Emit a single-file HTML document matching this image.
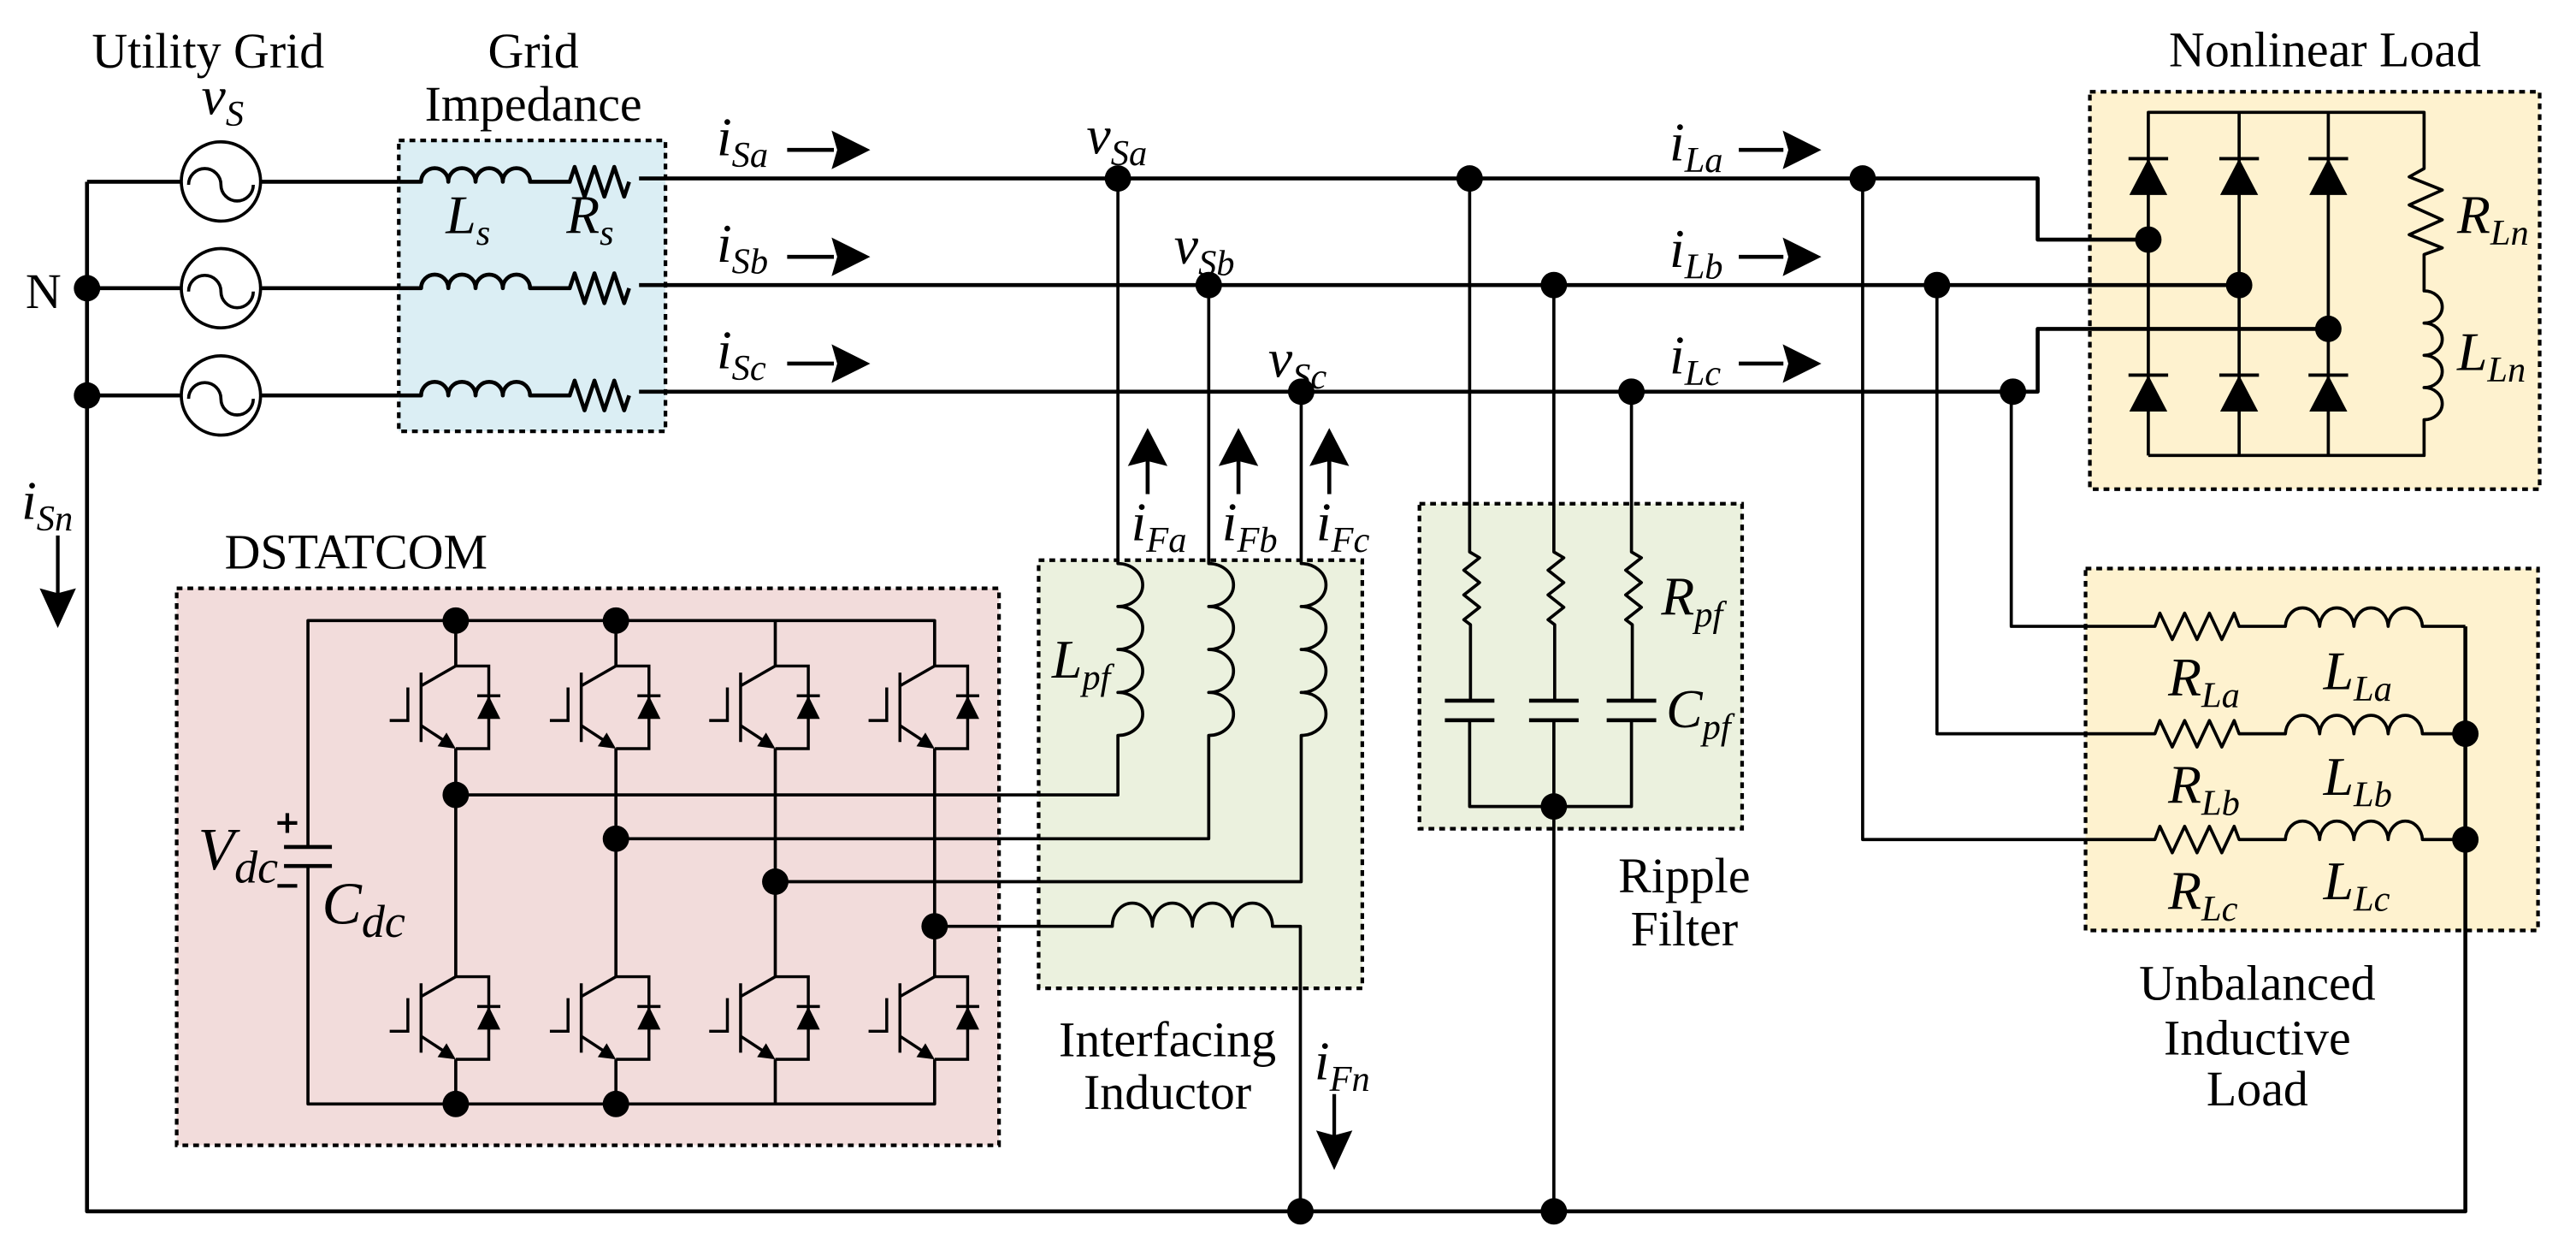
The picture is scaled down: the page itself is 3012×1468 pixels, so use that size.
<!DOCTYPE html>
<html><head><meta charset="utf-8"><style>
html,body{margin:0;padding:0;background:#fff}
svg{display:block}
text{font-family:"Liberation Serif",serif;fill:#000}
.t{font-size:30px}
.m{font-size:33px;font-style:italic}
.s{font-size:22px;font-style:italic}
</style></head><body>
<svg width="3012" height="1468" viewBox="0 0 1560 760" preserveAspectRatio="none" xmlns="http://www.w3.org/2000/svg">
<defs>
<g id="igbt" fill="none" stroke="#000" stroke-width="1.8">
<path d="M0 0H20V50H0"/>
<path d="M0 0L-21 12"/>
<path d="M-21 4V46"/>
<path d="M-21 36L-5 46.5"/>
<path d="M-29 13V33H-40"/>
<path d="M13 18H27"/>
<polygon points="20,18 13,32 27,32" fill="#000" stroke="none"/>
<polygon points="0,50 -11,48.6 -5.6,40.3" fill="#000" stroke="none"/>
</g>
<g id="dio">
<path d="M-12 0H12" stroke="#000" stroke-width="2"/>
<polygon points="0,0 -11.5,22 11.5,22" fill="#000"/>
</g>
</defs>

<g stroke="#000" stroke-width="2.2" stroke-dasharray="3.5 3">
<rect x="241.5" y="85" width="161.5" height="176" fill="#dbeef4"/>
<rect x="107" y="356" width="498" height="337" fill="#f2dcdb"/>
<rect x="629" y="339" width="196" height="259" fill="#ebf1de"/>
<rect x="859.6" y="304.8" width="195.4" height="196.7" fill="#ebf1de"/>
<rect x="1265.6" y="55.5" width="272.4" height="240.5" fill="#fef2cf"/>
<rect x="1263" y="344" width="274" height="219" fill="#fef2cf"/>
</g>

<g fill="none" stroke="#000" stroke-width="2.4" stroke-linejoin="round">
<path d="M52.7 110V733H1493V379"/>
<path d="M52.7 110H110M158 110H241.5M52.7 174.4H110M158 174.4H241.5M52.7 239.3H110M158 239.3H241.5"/>
<path d="M241.5 110H255a8.25 8.25 0 0 1 16.5 0a8.25 8.25 0 0 1 16.5 0a8.25 8.25 0 0 1 16.5 0a8.25 8.25 0 0 1 16.5 0H345l3 -9l6 18l6 -18l6 18l6 -18l6 18l3 -9"/>
<path d="M241.5 174.4H255a8.25 8.25 0 0 1 16.5 0a8.25 8.25 0 0 1 16.5 0a8.25 8.25 0 0 1 16.5 0a8.25 8.25 0 0 1 16.5 0H345l3 -9l6 18l6 -18l6 18l6 -18l6 18l3 -9"/>
<path d="M241.5 239.3H255a8.25 8.25 0 0 1 16.5 0a8.25 8.25 0 0 1 16.5 0a8.25 8.25 0 0 1 16.5 0a8.25 8.25 0 0 1 16.5 0H345l3 -9l6 18l6 -18l6 18l6 -18l6 18l3 -9"/>
<path d="M387 108H1234V145H1300"/>
<path d="M387 172.5H1356"/>
<path d="M387 237H1234V199H1410"/>
</g>

<g fill="none" stroke="#000" stroke-width="1.9">
<circle cx="133.8" cy="109.8" r="24"/><circle cx="133.8" cy="174.4" r="24"/><circle cx="133.8" cy="239.3" r="24"/>
<path d="M114.2 111.8a9.8 9.8 0 0 1 19.6 0a9.8 9.8 0 0 0 19.6 0"/>
<path d="M114.2 176.4a9.8 9.8 0 0 1 19.6 0a9.8 9.8 0 0 0 19.6 0"/>
<path d="M114.2 241.3a9.8 9.8 0 0 1 19.6 0a9.8 9.8 0 0 0 19.6 0"/>
</g>

<g fill="none" stroke="#000" stroke-width="1.9" stroke-linejoin="round">
<path d="M677 108V341a15 13 0 0 1 0 26a15 13 0 0 1 0 26a15 13 0 0 1 0 26a15 13 0 0 1 0 26V481H276"/>
<path d="M732 172.5V341a15 13 0 0 1 0 26a15 13 0 0 1 0 26a15 13 0 0 1 0 26a15 13 0 0 1 0 26V507.5H373"/>
<path d="M788 237V341a15 13 0 0 1 0 26a15 13 0 0 1 0 26a15 13 0 0 1 0 26a15 13 0 0 1 0 26V533.5H469.5"/>
<path d="M566 560.5H673.6a12.1 14 0 0 1 24.25 0a12.1 14 0 0 1 24.25 0a12.1 14 0 0 1 24.25 0a12.1 14 0 0 1 24.25 0H787.5V733"/>
<path d="M186.5 512.5V375.5H566V403M276 375.5V403M373 375.5V403M469.5 375.5V403"/>
<path d="M186.5 524V668H566V641M276 668V641M373 668V641M469.5 668V641"/>
<path d="M276 453V591M373 453V591M469.5 453V591M566 453V591"/>
<path d="M172 512.5H201M172 524H201" stroke-width="2.4"/>
<path d="M168 498H180M174 492V504M168 536H180" stroke-width="2.2"/>
<path d="M890 108V334l6 3.5l-9.5 7.5l9.5 7.5l-9.5 7.5l9.5 7.5l-9.5 7.5l4 3V424M941 172.5V334l6 3.5l-9.5 7.5l9.5 7.5l-9.5 7.5l9.5 7.5l-9.5 7.5l4 3V424M988 237V334l6 3.5l-9.5 7.5l9.5 7.5l-9.5 7.5l9.5 7.5l-9.5 7.5l4 3V424"/>
<path d="M875 424H905M926 424H956M973 424H1003M875 435.8H905M926 435.8H956M973 435.8H1003" stroke-width="2.4"/>
<path d="M890 435.8V488H988V435.8M941 435.8V733"/>
<path d="M1301 275.6V68H1468V102l-9 5l20 8l-20 9l20 9l-20 9l20 8l-11 4V176a11 9.75 0 0 1 0 19.5a11 9.75 0 0 1 0 19.5a11 9.75 0 0 1 0 19.5a11 9.75 0 0 1 0 19.5V275.6H1301M1356 68V275.6M1410 68V275.6"/>
<path d="M1218 237V379H1305l3 -8l7.5 16l7.5 -16l7.5 16l7.5 -16l7.5 16l7.5 -16l3 8H1384a10.4 12 0 0 1 20.75 0a10.4 12 0 0 1 20.75 0a10.4 12 0 0 1 20.75 0a10.4 12 0 0 1 20.75 0H1493"/>
<path d="M1173 172.5V444H1305l3 -8l7.5 16l7.5 -16l7.5 16l7.5 -16l7.5 16l7.5 -16l3 8H1384a10.4 12 0 0 1 20.75 0a10.4 12 0 0 1 20.75 0a10.4 12 0 0 1 20.75 0a10.4 12 0 0 1 20.75 0H1493"/>
<path d="M1128 108V508H1305l3 -8l7.5 16l7.5 -16l7.5 16l7.5 -16l7.5 16l7.5 -16l3 8H1384a10.4 12 0 0 1 20.75 0a10.4 12 0 0 1 20.75 0a10.4 12 0 0 1 20.75 0a10.4 12 0 0 1 20.75 0H1493"/>
<path d="M476.7 90.7H505M476.7 155.4H505M476.7 220H505" stroke-width="2.4"/>
<path d="M1053 90.7H1080M1053 155.4H1080M1053 220H1080" stroke-width="2.4"/>
<path d="M695 299V275M750 299V275M805 299V275" stroke-width="2.4"/>
<path d="M35 324V360M808 662V690" stroke-width="2.2"/>
</g>

<g fill="#000">
<polygon points="527,90.7 503.6,79 507,90.7 503.6,102.4"/>
<polygon points="527,155.4 503.6,143.7 507,155.4 503.6,167.1"/>
<polygon points="527,220 503.6,208.3 507,220 503.6,231.7"/>
<polygon points="1103,90.7 1079.6,79 1083,90.7 1079.6,102.4"/>
<polygon points="1103,155.4 1079.6,143.7 1083,155.4 1079.6,167.1"/>
<polygon points="1103,220 1079.6,208.3 1083,220 1079.6,231.7"/>
<polygon points="695,259 683,282 695,279 707,282"/>
<polygon points="750,259 738,282 750,279 762,282"/>
<polygon points="805,259 793,282 805,279 817,282"/>
<polygon points="35,380 24,356 35,359 46,356"/>
<polygon points="808,708 797,684 808,687 819,684"/>
</g>

<use href="#igbt" x="276" y="403"/><use href="#igbt" x="373" y="403"/><use href="#igbt" x="469.5" y="403"/><use href="#igbt" x="566" y="403"/>
<use href="#igbt" x="276" y="591"/><use href="#igbt" x="373" y="591"/><use href="#igbt" x="469.5" y="591"/><use href="#igbt" x="566" y="591"/>

<use href="#dio" x="1301" y="96"/><use href="#dio" x="1356" y="96"/><use href="#dio" x="1410" y="96"/>
<use href="#dio" x="1301" y="227"/><use href="#dio" x="1356" y="227"/><use href="#dio" x="1410" y="227"/>

<g fill="#000">
<circle cx="52.7" cy="174.4" r="8"/><circle cx="52.7" cy="239.3" r="8"/>
<circle cx="677" cy="108" r="8"/><circle cx="732" cy="172.5" r="8"/><circle cx="788" cy="237" r="8"/>
<circle cx="890" cy="108" r="8"/><circle cx="941" cy="172.5" r="8"/><circle cx="988" cy="237" r="8"/>
<circle cx="1128" cy="108" r="8"/><circle cx="1173" cy="172.5" r="8"/><circle cx="1219" cy="237" r="8"/>
<circle cx="1301" cy="145" r="8"/><circle cx="1356" cy="172.5" r="8"/><circle cx="1410" cy="199" r="8"/>
<circle cx="1493" cy="444" r="8"/><circle cx="1493" cy="508" r="8"/>
<circle cx="941" cy="488" r="8"/><circle cx="941" cy="733" r="8"/><circle cx="787.5" cy="733" r="8"/>
<circle cx="276" cy="375.5" r="8"/><circle cx="373" cy="375.5" r="8"/><circle cx="276" cy="668" r="8"/><circle cx="373" cy="668" r="8"/>
<circle cx="276" cy="481" r="8"/><circle cx="373" cy="507.5" r="8"/><circle cx="469.5" cy="533.5" r="8"/><circle cx="566" cy="560.5" r="8"/>
</g>

<text class="t" x="126" y="41" text-anchor="middle">Utility Grid</text>
<text class="t" x="323" y="41" text-anchor="middle">Grid</text>
<text class="t" x="323" y="73" text-anchor="middle">Impedance</text>
<text class="t" x="1408" y="40" text-anchor="middle">Nonlinear Load</text>
<text class="t" x="136" y="344">DSTATCOM</text>
<text class="t" x="15.5" y="186.5">N</text>
<text class="t" x="707" y="639" text-anchor="middle">Interfacing</text>
<text class="t" x="707" y="671" text-anchor="middle">Inductor</text>
<text class="t" x="1020" y="540" text-anchor="middle">Ripple</text>
<text class="t" x="1020" y="572" text-anchor="middle">Filter</text>
<text class="t" x="1367" y="605" text-anchor="middle">Unbalanced</text>
<text class="t" x="1367" y="638" text-anchor="middle">Inductive</text>
<text class="t" x="1367" y="669" text-anchor="middle">Load</text>

<text class="m" x="122" y="69">v<tspan class="s" dy="7">S</tspan></text>
<text class="m" x="270" y="141">L<tspan class="s" dy="7">s</tspan></text>
<text class="m" x="343" y="141">R<tspan class="s" dy="7">s</tspan></text>
<text class="m" x="434" y="94">i<tspan class="s" dy="7">Sa</tspan></text>
<text class="m" x="434" y="158.5">i<tspan class="s" dy="7">Sb</tspan></text>
<text class="m" x="434" y="223">i<tspan class="s" dy="7">Sc</tspan></text>
<text class="m" x="658" y="93">v<tspan class="s" dy="7">Sa</tspan></text>
<text class="m" x="711" y="159.5">v<tspan class="s" dy="7">Sb</tspan></text>
<text class="m" x="768" y="228">v<tspan class="s" dy="7">Sc</tspan></text>
<text class="m" x="685" y="327">i<tspan class="s" dy="7">Fa</tspan></text>
<text class="m" x="740" y="327">i<tspan class="s" dy="7">Fb</tspan></text>
<text class="m" x="797" y="327">i<tspan class="s" dy="7">Fc</tspan></text>
<text class="m" x="796" y="653">i<tspan class="s" dy="7">Fn</tspan></text>
<text class="m" x="13" y="314">i<tspan class="s" dy="7">Sn</tspan></text>
<text class="m" x="1011" y="97">i<tspan class="s" dy="7">La</tspan></text>
<text class="m" x="1011" y="161.5">i<tspan class="s" dy="7">Lb</tspan></text>
<text class="m" x="1011" y="226">i<tspan class="s" dy="7">Lc</tspan></text>
<text class="m" x="637" y="410">L<tspan class="s" dy="7">pf</tspan></text>
<text class="m" x="1006" y="372">R<tspan class="s" dy="7">pf</tspan></text>
<text class="m" x="1009" y="440">C<tspan class="s" dy="7">pf</tspan></text>
<text class="m" x="1488" y="141">R<tspan class="s" dy="7">Ln</tspan></text>
<text class="m" x="1488" y="224">L<tspan class="s" dy="7">Ln</tspan></text>
<text class="m" x="1313" y="421">R<tspan class="s" dy="7">La</tspan></text>
<text class="m" x="1407" y="417">L<tspan class="s" dy="7">La</tspan></text>
<text class="m" x="1313" y="486">R<tspan class="s" dy="7">Lb</tspan></text>
<text class="m" x="1407" y="481">L<tspan class="s" dy="7">Lb</tspan></text>
<text class="m" x="1313" y="550">R<tspan class="s" dy="7">Lc</tspan></text>
<text class="m" x="1407" y="544">L<tspan class="s" dy="7">Lc</tspan></text>
<text class="m" x="120" y="526" style="font-size:36px">V<tspan style="font-size:28px" dy="8">dc</tspan></text>
<text class="m" x="195" y="559" style="font-size:36px">C<tspan style="font-size:28px" dy="8">dc</tspan></text>
</svg>
</body></html>
